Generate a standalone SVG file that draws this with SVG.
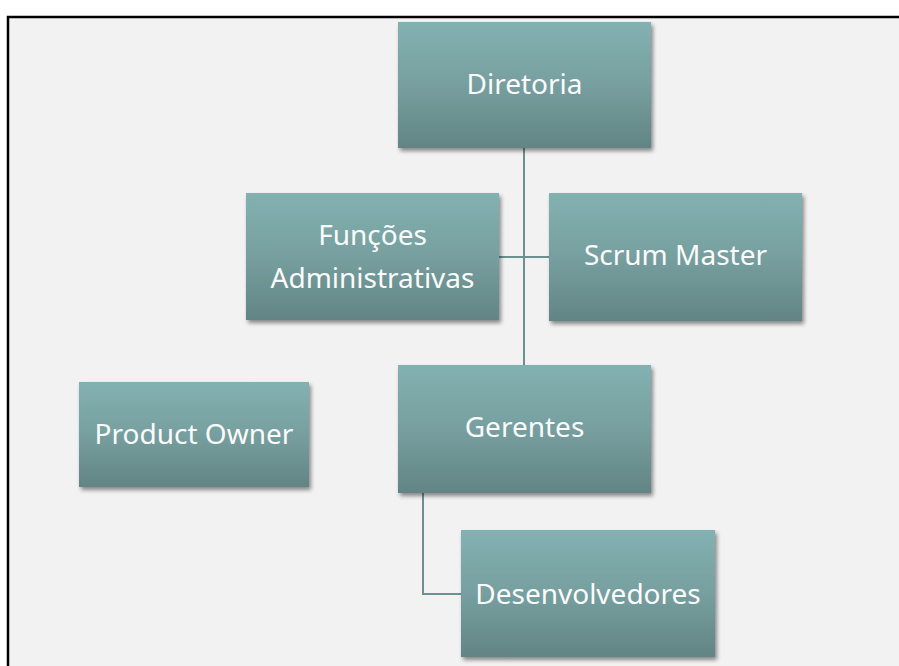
<svg xmlns="http://www.w3.org/2000/svg" width="899" height="666" viewBox="0 0 899 666">
<defs>
<linearGradient id="g" x1="0" y1="0" x2="0" y2="1">
<stop offset="0" stop-color="#83b1b1"/>
<stop offset="0.5" stop-color="#779f9f"/>
<stop offset="1" stop-color="#628484"/>
</linearGradient>
<filter id="sh" x="-10%" y="-10%" width="125%" height="130%">
<feGaussianBlur in="SourceAlpha" stdDeviation="2"/>
<feOffset dx="2" dy="3" result="b"/>
<feComponentTransfer><feFuncA type="linear" slope="0.45"/></feComponentTransfer>
<feMerge><feMergeNode/><feMergeNode in="SourceGraphic"/></feMerge>
</filter>
</defs>
<style>
.box{fill:url(#g);filter:url(#sh)}
.t{font-family:"Noto Sans","Open Sans",sans-serif;font-size:28px;fill:#fbfbfb;text-anchor:middle}
.c{fill:none;stroke:#6b9090;stroke-width:2}
</style>
<rect x="0" y="0" width="899" height="666" fill="#ffffff"/>
<rect x="8" y="17" width="895" height="655" fill="#f2f2f2" stroke="#000" stroke-width="2.5"/>
<g id="connectors">
<path class="c" d="M524,148 V365"/>
<path class="c" d="M499,257 H549"/>
<path class="c" d="M423,493 V594 H461"/>
</g>
<g id="diretoria"><rect class="box" x="398" y="22" width="253" height="126"/><text class="t" x="524.5" y="94">Diretoria</text></g>
<g id="funcoes"><rect class="box" x="246" y="193" width="253" height="127"/><text class="t" x="372.5" y="245">Funções</text><text class="t" x="372.5" y="288">Administrativas</text></g>
<g id="scrum"><rect class="box" x="549" y="193" width="253" height="128"/><text class="t" x="675.5" y="265">Scrum Master</text></g>
<g id="gerentes"><rect class="box" x="398" y="365" width="253" height="128"/><text class="t" x="524.5" y="437">Gerentes</text></g>
<g id="po"><rect class="box" x="79" y="382" width="230" height="105"/><text class="t" x="194" y="444">Product Owner</text></g>
<g id="dev"><rect class="box" x="461" y="530" width="254" height="127"/><text class="t" x="588" y="604">Desenvolvedores</text></g>
</svg>
